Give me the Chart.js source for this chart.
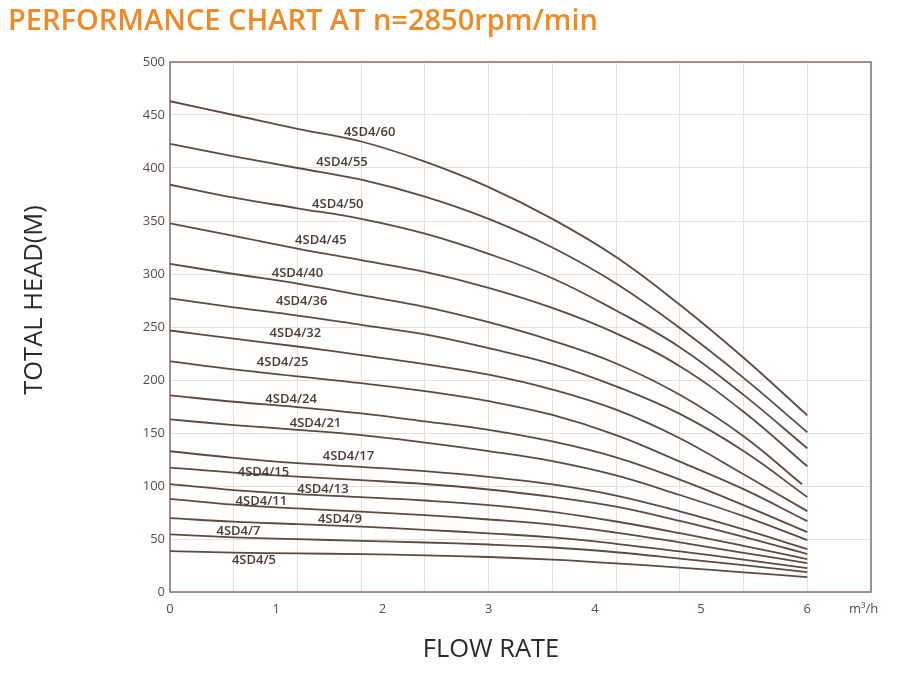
<!DOCTYPE html>
<html><head><meta charset="utf-8">
<script src="https://cdn.jsdelivr.net/npm/chart.js@4.4.1/dist/chart.umd.min.js"></script>
<style>html,body{margin:0;padding:0;background:#fff;overflow:hidden}</style>
</head><body>
<canvas id="c" width="904" height="677"></canvas>
<script>
// ---- data ----
const flows = [0, 0.6, 1.2, 1.8, 2.4, 3.0, 3.6, 4.2, 4.8, 5.4, 6.0];
const models = ['4SD4/60','4SD4/55','4SD4/50','4SD4/45','4SD4/40','4SD4/36','4SD4/32','4SD4/25','4SD4/24','4SD4/21','4SD4/17','4SD4/15','4SD4/13','4SD4/11','4SD4/9','4SD4/7','4SD4/5'];
const head60 = [463, 450, 437, 425, 406, 382, 352, 316, 271, 221, 166.7];
const head55 = [422.8, 411, 400, 389, 373, 352, 325, 291, 249, 202, 150.7];
const head50 = [384.2, 372, 362, 352, 338, 319, 296, 265.5, 231, 186, 135.6];
const head45 = [347.7, 336, 324, 313, 302, 287, 268, 244, 213, 170, 118.6];
const head40 = [309.5, 300, 291, 280, 269, 254.5, 237, 215.6, 186, 147, 101.7];
const head36 = [277.1, 268.6, 260.8, 252, 243, 230, 215, 194, 168, 133, 89.5];
const head32 = [246.7, 239, 231.6, 223.5, 215, 205, 191, 172, 145, 111, 76.3];
const head25 = [217.5, 210, 203.5, 197, 189.5, 180, 167, 148, 123, 97, 66.9];
const head24 = [185.5, 179.5, 174.5, 168.5, 161, 153, 142, 127, 106, 82, 56.5];
const head21 = [162.9, 157.5, 153, 148, 141, 133, 123.5, 110, 91.5, 71.5, 49];
const head17 = [132.8, 126.5, 121.5, 118, 114, 108.6, 101.5, 91, 76, 59, 40.5];
const head15 = [117.4, 112.6, 108.8, 105.5, 101.9, 96.7, 89.7, 80.5, 67, 52, 35.8];
const head13 = [101.7, 96.2, 92.3, 89.5, 86.3, 82, 75.6, 66.5, 55.5, 43.5, 31];
const head11 = [87.9, 82.4, 78.8, 75.8, 72.5, 68.4, 63.5, 56, 46.8, 37, 27.3];
const head9  = [69.7, 66.3, 64, 61.6, 58.7, 55.3, 51.5, 45.5, 38.3, 30.6, 22.6];
const head7  = [54.3, 51.6, 49.8, 48.3, 46.7, 44.8, 42, 37.5, 31.5, 25.3, 18.8];
const head5  = [38.6, 37.2, 36.4, 35.7, 34.6, 33, 30.5, 27, 23, 18.6, 14.1];
const heads = [head60, head55, head50, head45, head40, head36, head32, head25, head24, head21, head17, head15, head13, head11, head9, head7, head5];
const endFlows = [6, 6, 6, 6, 5.95, 6, 6, 6, 6, 6, 6, 6, 6, 6, 6, 6, 6];
const labelFlows = [1.88, 1.62, 1.58, 1.42, 1.20, 1.24, 1.18, 1.06, 1.14, 1.37, 1.68, 0.88, 1.44, 0.86, 1.60, 0.645, 0.79];
const labelHeads = [434, 405, 366, 332, 301, 274, 244, 216.6, 181.7, 159, 128, 113, 97, 85.7, 68.7, 57.4, 30.1];
const yTickValues = [0, 50, 100, 150, 200, 250, 300, 350, 400, 450, 500];
const xTickValues = [0, 1, 2, 3, 4, 5, 6];
const xTickLabels = ['0', '1', '2', '3', '4', '5', '6'];
const gridFlows = [0, 0.6, 1.2, 1.8, 2.4, 3.0, 3.6, 4.2, 4.8, 5.4, 6.0, 6.6];
const unitLabel = 'm³/h';
const unitFlow = 6.53;
const titleText = 'PERFORMANCE CHART AT n=2850rpm/min';
const xTitle = 'FLOW RATE';
const yTitle = 'TOTAL HEAD(M)';

// ---- styles ----
const LINE = '#5c4a44';
const GRID = '#e8dedb';
const FRAME = '#84716c';
const TICK = '#5a4c48';
const LABEL = '#4a3b36';
const FONT = '"Open Sans", "Noto Sans", sans-serif';
const near = (a, b) => Math.abs(a - b) < 1e-6;

const datasets = heads.map((h, k) => ({
  label: models[k],
  data: flows.map((q, i) => ({ x: i === flows.length - 1 ? endFlows[k] : q, y: h[i] })),
  borderColor: LINE,
  borderWidth: 1.8,
  pointRadius: 0,
  fill: false,
  tension: 0.4
}));

const decor = {
  id: 'decor',
  beforeDatasetsDraw(chart) {
    const { ctx, chartArea: a } = chart;
    ctx.save();
    ctx.strokeStyle = FRAME;
    ctx.lineWidth = 1.5;
    ctx.strokeRect(a.left, a.top, a.right - a.left, a.bottom - a.top);
    ctx.restore();
  },
  afterDatasetsDraw(chart) {
    const { ctx, scales: { x, y } } = chart;
    ctx.save();
    ctx.fillStyle = LABEL;
    ctx.font = '600 13px ' + FONT;
    ctx.textAlign = 'center';
    ctx.textBaseline = 'middle';
    models.forEach((m, i) => {
      ctx.fillText(m, x.getPixelForValue(labelFlows[i]), y.getPixelForValue(labelHeads[i]));
    });
    ctx.restore();
  },
  afterDraw(chart) {
    const { ctx } = chart;
    ctx.save();
    ctx.fillStyle = '#2c2a29';
    ctx.font = '400 25.5px ' + FONT;
    ctx.textAlign = 'center';
    ctx.textBaseline = 'middle';
    ctx.fillText(xTitle, 491, 650);
    ctx.translate(35, 300);
    ctx.rotate(-Math.PI / 2);
    ctx.fillText(yTitle, 0, 0);
    ctx.restore();
  }
};

new Chart(document.getElementById('c'), {
  type: 'line',
  data: { datasets },
  plugins: [decor],
  options: {
    responsive: false,
    animation: false,
    devicePixelRatio: 1,
    layout: { padding: { left: 8, right: 33, top: 0, bottom: 0 } },
    plugins: {
      legend: { display: false },
      tooltip: { enabled: false },
      title: {
        display: true,
        text: titleText,
        align: 'start',
        color: '#f08a24',
        font: { family: FONT, size: 29, weight: '600', lineHeight: 1.2 },
        padding: { top: 4, bottom: 23.2 }
      }
    },
    scales: {
      x: {
        type: 'linear',
        min: 0,
        max: 6.6,
        afterBuildTicks(scale) {
          const vals = [...gridFlows];
          xTickValues.forEach(v => { if (!vals.some(g => near(g, v))) vals.push(v); });
          vals.push(unitFlow);
          vals.sort((a, b) => a - b);
          scale.ticks = vals.map(v => ({ value: v }));
        },
        afterFit(scale) { scale.height = 85; },
        grid: {
          color: ctx => (ctx.tick && gridFlows.some(g => near(g, ctx.tick.value))) ? GRID : 'rgba(0,0,0,0)',
          lineWidth: 1,
          drawTicks: false
        },
        border: { display: false },
        ticks: {
          autoSkip: false,
          maxRotation: 0,
          padding: 9,
          color: TICK,
          font: { family: FONT, size: 13 },
          callback(value) {
            if (near(value, unitFlow)) return unitLabel;
            const i = xTickValues.findIndex(v => near(v, value));
            return i >= 0 ? xTickLabels[i] : '';
          }
        }
      },
      y: {
        type: 'linear',
        min: 0,
        max: 500,
        afterBuildTicks(scale) { scale.ticks = yTickValues.map(v => ({ value: v })); },
        afterFit(scale) { scale.width = 162; },
        grid: { color: GRID, lineWidth: 1, drawTicks: false },
        border: { display: false },
        ticks: {
          padding: 5,
          color: TICK,
          font: { family: FONT, size: 13 }
        }
      }
    }
  }
});
</script>
</body></html>
